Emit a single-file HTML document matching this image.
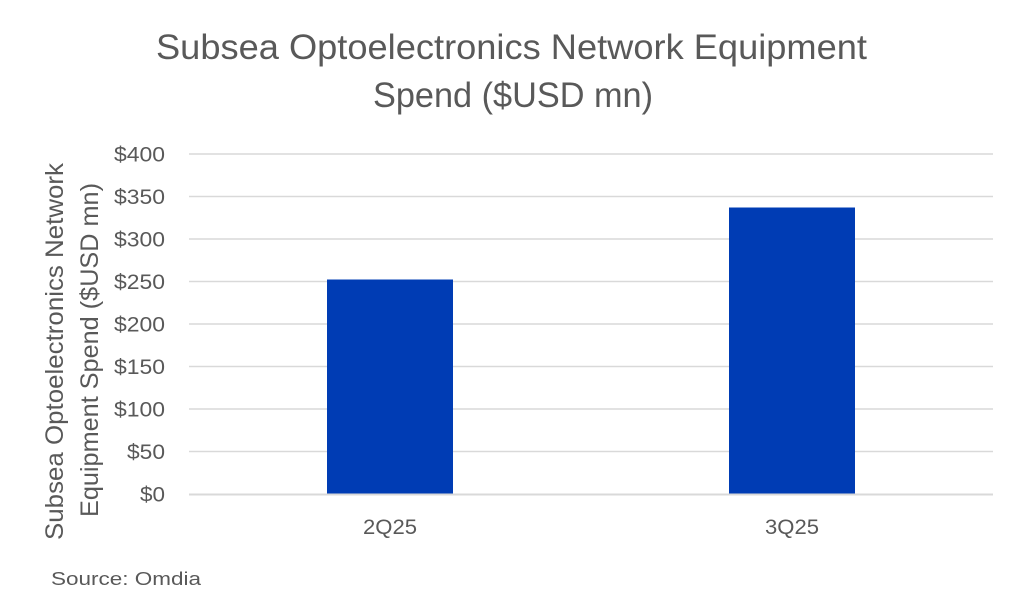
<!DOCTYPE html>
<html>
<head>
<meta charset="utf-8">
<style>
  html, body { margin: 0; padding: 0; background: #ffffff; }
  body { width: 1024px; height: 614px; overflow: hidden; }
  svg { display: block; }
  text { font-family: "Liberation Sans", "DejaVu Sans", sans-serif; fill: #595959; }
</style>
</head>
<body>
<svg width="1024" height="614" viewBox="0 0 1024 614" xmlns="http://www.w3.org/2000/svg">
  <rect x="0" y="0" width="1024" height="614" fill="#ffffff"/>

  <!-- Title -->
  <text x="156" y="59" font-size="35" textLength="711" lengthAdjust="spacingAndGlyphs">Subsea Optoelectronics Network Equipment</text>
  <text x="373" y="107" font-size="35" textLength="280" lengthAdjust="spacingAndGlyphs">Spend ($USD mn)</text>

  <!-- Gridlines -->
  <g stroke="#d9d9d9" stroke-width="1.5">
    <line x1="189" y1="154" x2="993" y2="154"/>
    <line x1="189" y1="196.5" x2="993" y2="196.5"/>
    <line x1="189" y1="239" x2="993" y2="239"/>
    <line x1="189" y1="281.5" x2="993" y2="281.5"/>
    <line x1="189" y1="324" x2="993" y2="324"/>
    <line x1="189" y1="366.5" x2="993" y2="366.5"/>
    <line x1="189" y1="409" x2="993" y2="409"/>
    <line x1="189" y1="451.5" x2="993" y2="451.5"/>
  </g>

  <!-- Bars -->
  <rect x="327" y="279.5" width="126" height="214.5" fill="#003cb4"/>
  <rect x="729" y="207.5" width="126" height="286.5" fill="#003cb4"/>

  <!-- Axis line -->
  <line x1="189" y1="494.5" x2="993" y2="494.5" stroke="#d9d9d9" stroke-width="2"/>

  <!-- Y tick labels -->
  <g font-size="21" text-anchor="end">
    <text x="165" y="161.5" textLength="51" lengthAdjust="spacingAndGlyphs">$400</text>
    <text x="165" y="204" textLength="51" lengthAdjust="spacingAndGlyphs">$350</text>
    <text x="165" y="246.5" textLength="51" lengthAdjust="spacingAndGlyphs">$300</text>
    <text x="165" y="289" textLength="51" lengthAdjust="spacingAndGlyphs">$250</text>
    <text x="165" y="331.5" textLength="51" lengthAdjust="spacingAndGlyphs">$200</text>
    <text x="165" y="374" textLength="51" lengthAdjust="spacingAndGlyphs">$150</text>
    <text x="165" y="416.5" textLength="51" lengthAdjust="spacingAndGlyphs">$100</text>
    <text x="165" y="459" textLength="38" lengthAdjust="spacingAndGlyphs">$50</text>
    <text x="165" y="501.5" textLength="25" lengthAdjust="spacingAndGlyphs">$0</text>
  </g>

  <!-- X labels -->
  <g font-size="21" text-anchor="middle">
    <text x="390" y="534" textLength="54" lengthAdjust="spacingAndGlyphs">2Q25</text>
    <text x="792" y="534" textLength="54" lengthAdjust="spacingAndGlyphs">3Q25</text>
  </g>

  <!-- Y axis title -->
  <text transform="translate(63,351.5) rotate(-90)" x="0" y="0" font-size="25" text-anchor="middle" textLength="377" lengthAdjust="spacingAndGlyphs">Subsea Optoelectronics Network</text>
  <text transform="translate(98,350) rotate(-90)" x="0" y="0" font-size="25" text-anchor="middle" textLength="334" lengthAdjust="spacingAndGlyphs">Equipment Spend ($USD mn)</text>

  <!-- Source -->
  <text x="51" y="585" font-size="18" textLength="150" lengthAdjust="spacingAndGlyphs">Source:  Omdia</text>
</svg>
</body>
</html>
